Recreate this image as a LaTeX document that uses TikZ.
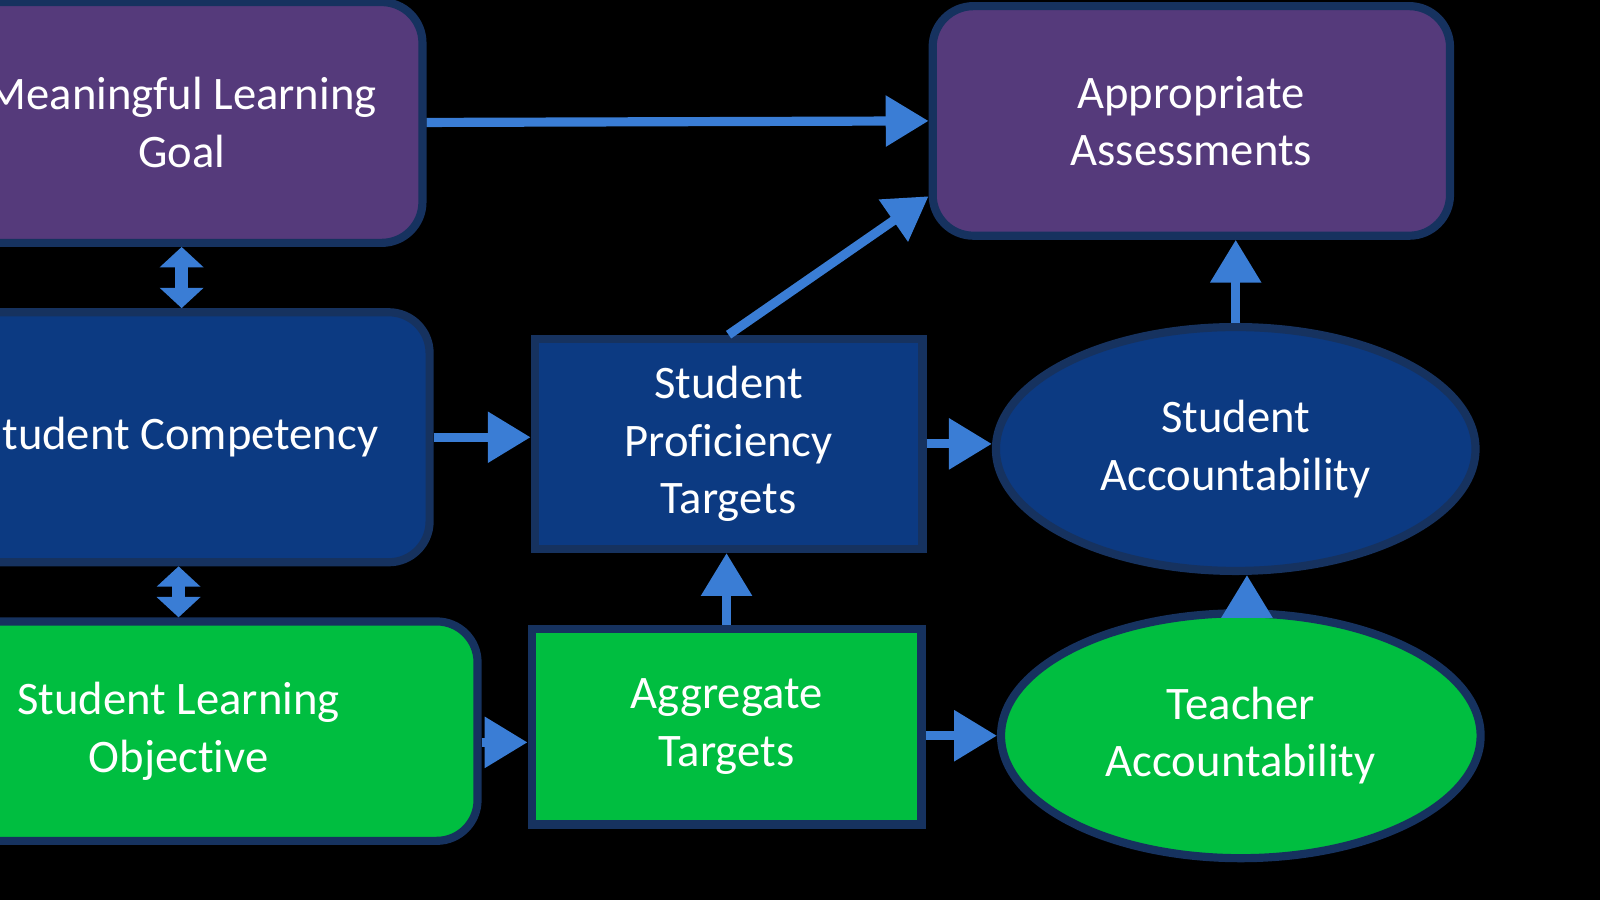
\documentclass[tikz,border=0pt]{standalone}
\usepackage{fontspec}
\setmainfont{Carlito}[Ligatures=NoCommon]
\usetikzlibrary{arrows.meta,positioning,shapes.geometric}
\definecolor{goalpurple}{RGB}{85,58,123}
\definecolor{compblue}{RGB}{12,58,130}
\definecolor{objgreen}{RGB}{0,190,64}
\definecolor{edgenavy}{RGB}{22,50,95}
\definecolor{arrowblue}{RGB}{58,125,213}
\tikzset{>=latex}
\tikzset{box/.style={draw=edgenavy, line width=0.08cm, text=white, align=center, inner sep=0pt,
    font=\fontsize{13}{16}\selectfont}}
\tikzset{roundbox/.style={box, rectangle, rounded corners=0.4cm}}
\tikzset{squarebox/.style={box, rectangle}}
\tikzset{ovalbox/.style={box, ellipse}}
\tikzset{blockarrow/.style={draw=arrowblue, line width=0.09cm, -{Triangle[width=0.48cm,length=0.42cm]}}}
\tikzset{dblarrow/.style={draw=arrowblue, line width=0.13cm,
    {Triangle[width=0.42cm,length=0.2cm]}-{Triangle[width=0.42cm,length=0.2cm]}}}
\begin{document}
\begin{tikzpicture}
  \useasboundingbox (0,0) rectangle (15.68,8.82);
  \clip (0,0) rectangle (15.68,8.82);
  \fill[black] (0,0) rectangle (15.68,8.82);
  \node[roundbox, fill=goalpurple, minimum width=4.72cm, minimum height=2.36cm] (mlg) at (1.78,7.62) {Meaningful Learning\\Goal};
  \node[roundbox, fill=goalpurple, minimum width=5.07cm, minimum height=2.25cm] (aa) at (11.675,7.635) {Appropriate\\Assessments};
  \node[roundbox, fill=compblue, minimum width=4.90cm, minimum height=2.45cm] (sc) at (1.76,4.535) {Student Competency};
  \node[squarebox, fill=compblue, minimum width=3.80cm, minimum height=2.06cm] (spt) at (7.14,4.47) {Student\\Proficiency\\Targets};
  \node[ovalbox, fill=compblue, minimum width=4.70cm, minimum height=2.39cm] (sa) at (12.11,4.42) {Student\\Accountability};
  \node[roundbox, fill=objgreen, minimum width=5.86cm, minimum height=2.15cm] (slo) at (1.75,1.655) {Student Learning\\Objective};
  \node[squarebox, fill=objgreen, minimum width=3.82cm, minimum height=1.92cm] (at) at (7.12,1.70) {Aggregate\\Targets};
  \node[ovalbox, fill=objgreen, minimum width=4.70cm, minimum height=2.40cm] (ta) at (12.16,1.61) {Teacher\\Accountability};
  \draw[blockarrow] (mlg.east) -- (aa.west);
  \draw[blockarrow] (spt.north) -- (aa.196);
  \draw[blockarrow] (sc.east) -- (sc.east -| spt.west);
  \draw[blockarrow] (spt.east) -- (spt.east -| sa.west);
  \draw[blockarrow] (at.north) -- (at.north |- spt.south);
  \draw[blockarrow] ([yshift=-1.1mm]slo.east) -- ([yshift=-1.1mm]slo.east -| at.west);
  \draw[blockarrow] (ta.west -| at.east) -- (ta.west);
  \draw[blockarrow] (sa.north) -- (sa.north |- aa.south);
  \draw[blockarrow] ([xshift=0.6mm]ta.north) -- ([xshift=0.6mm]ta.north |- sa.south);
  \draw[dblarrow] (mlg.south) -- (mlg.south |- sc.north);
  \draw[dblarrow] (slo.north) -- (slo.north |- sc.south);
\end{tikzpicture}
\end{document}
